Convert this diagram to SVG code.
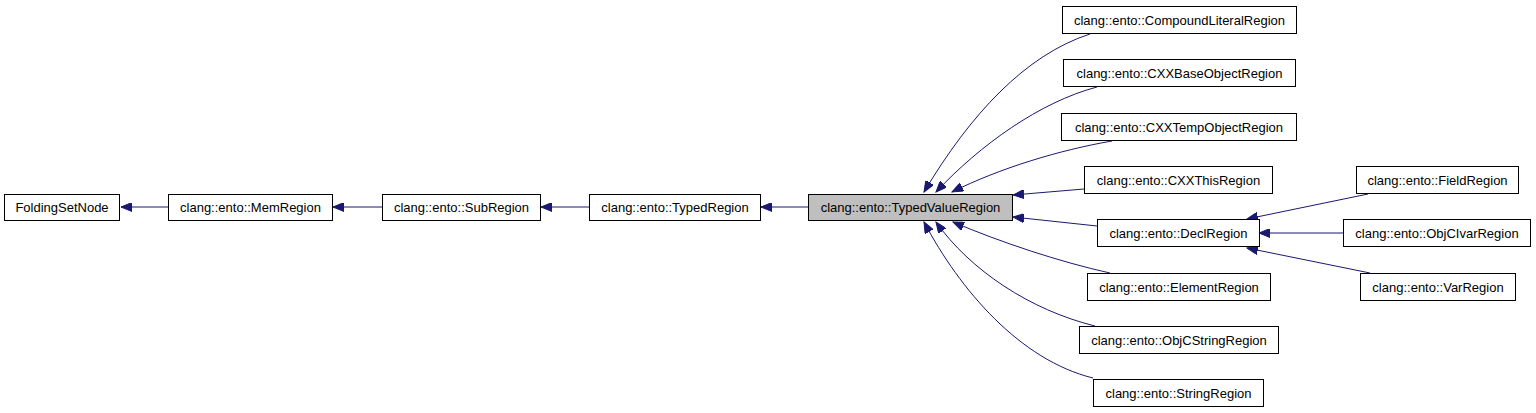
<svg xmlns="http://www.w3.org/2000/svg" width="1536" height="413" viewBox="0 0 1536 413">
<style>
.n rect{fill:#fff;stroke:#000;stroke-width:1}
.n.hl rect{fill:#bfbfbf}
.n text{font-family:"Liberation Sans",Arial,sans-serif;font-size:13px;fill:#000;text-anchor:middle}
.e path{fill:none;stroke:#191970;stroke-width:1;marker-end:url(#ah)}
</style>
<defs>
<marker id="ah" markerUnits="userSpaceOnUse" markerWidth="12" markerHeight="9" refX="11" refY="4.5" orient="auto">
<path d="M0,0 L11,4.5 L0,9 z" fill="#191970" stroke="#191970" stroke-width="1"/>
</marker>
</defs>
<g id="edges" class="e">
<path d="M168,207 L121,207"/>
<path d="M382,207 L333,207"/>
<path d="M589,207 L541,207"/>
<path d="M808,207 L761,207"/>
<path d="M1090,34 C1025,55 970,115 924,192"/>
<path d="M1097,87 C1040,102 980,145 936,192"/>
<path d="M1112,141 C1060,150 1000,168 952,192"/>
<path d="M1084,189 L1013,195"/>
<path d="M1097,226 L1013,217"/>
<path d="M1110,273 C1060,262 1000,242 953,222"/>
<path d="M1095,326 C1030,310 970,270 936,222"/>
<path d="M1093,378 C1020,360 960,290 924,222"/>
<path d="M1368,194 L1247,219"/>
<path d="M1343,233 L1259,233"/>
<path d="M1370,273 L1247,248"/>
</g>
<g id="n_FoldingSetNode" class="n"><rect x="4.5" y="194.5" width="115" height="26"/><text x="62" y="212">FoldingSetNode</text></g>
<g id="n_MemRegion" class="n"><rect x="168.5" y="194.5" width="164" height="26"/><text x="250.5" y="212">clang::ento::MemRegion</text></g>
<g id="n_SubRegion" class="n"><rect x="382.5" y="194.5" width="158" height="26"/><text x="461.5" y="212">clang::ento::SubRegion</text></g>
<g id="n_TypedRegion" class="n"><rect x="589.5" y="194.5" width="171" height="26"/><text x="675" y="212">clang::ento::TypedRegion</text></g>
<g id="n_TypedValueRegion" class="n hl"><rect x="808.5" y="194.5" width="204" height="26"/><text x="910.5" y="212">clang::ento::TypedValueRegion</text></g>
<g id="n_CompoundLiteralRegion" class="n"><rect x="1062.5" y="6.5" width="234" height="27"/><text x="1179.5" y="24.5">clang::ento::CompoundLiteralRegion</text></g>
<g id="n_CXXBaseObjectRegion" class="n"><rect x="1063.5" y="59.5" width="232" height="27"/><text x="1179.5" y="77.5">clang::ento::CXXBaseObjectRegion</text></g>
<g id="n_CXXTempObjectRegion" class="n"><rect x="1061.5" y="113.5" width="235" height="27"/><text x="1179" y="131.5">clang::ento::CXXTempObjectRegion</text></g>
<g id="n_CXXThisRegion" class="n"><rect x="1084.5" y="166.5" width="188" height="27"/><text x="1178.5" y="184.5">clang::ento::CXXThisRegion</text></g>
<g id="n_DeclRegion" class="n"><rect x="1097.5" y="219.5" width="162" height="27"/><text x="1178.5" y="237.5">clang::ento::DeclRegion</text></g>
<g id="n_ElementRegion" class="n"><rect x="1087.5" y="273.5" width="183" height="27"/><text x="1179" y="291.5">clang::ento::ElementRegion</text></g>
<g id="n_ObjCStringRegion" class="n"><rect x="1079.5" y="326.5" width="199" height="27"/><text x="1179" y="344.5">clang::ento::ObjCStringRegion</text></g>
<g id="n_StringRegion" class="n"><rect x="1093.5" y="379.5" width="170" height="27"/><text x="1178.5" y="397.5">clang::ento::StringRegion</text></g>
<g id="n_FieldRegion" class="n"><rect x="1356.5" y="166.5" width="162" height="27"/><text x="1437.5" y="184.5">clang::ento::FieldRegion</text></g>
<g id="n_ObjCIvarRegion" class="n"><rect x="1343.5" y="219.5" width="187" height="27"/><text x="1437" y="237.5">clang::ento::ObjCIvarRegion</text></g>
<g id="n_VarRegion" class="n"><rect x="1360.5" y="273.5" width="155" height="27"/><text x="1438" y="291.5">clang::ento::VarRegion</text></g>
</svg>
